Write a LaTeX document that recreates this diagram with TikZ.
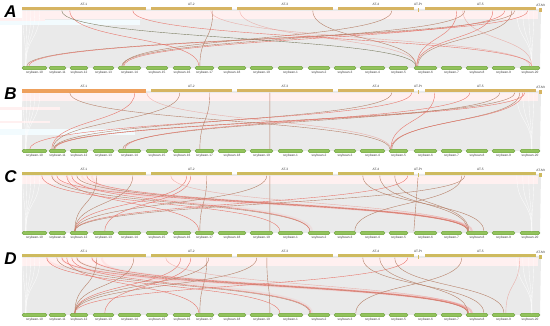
\documentclass[tikz,border=0pt]{standalone}
\usepackage{fontspec}
\setmainfont{Liberation Sans}
\usetikzlibrary{calc,positioning}

\definecolor{chrtan}{RGB}{214,180,98}
\definecolor{chrorange}{RGB}{238,160,92}
\definecolor{chrolive}{RGB}{206,186,94}
\definecolor{chrgreen}{RGB}{146,194,92}
\definecolor{chrgreendark}{RGB}{108,158,66}
\definecolor{linkred}{RGB}{232,118,108}
\definecolor{linkbrown}{RGB}{182,128,104}
\definecolor{linkdark}{RGB}{124,126,98}
\definecolor{bandgray}{RGB}{234,234,234}

% one syntenic link: top chromosome, offset, bottom chromosome, offset
\newcommand{\syn}[5][redlink]{%
  \draw[#1] ($(#2.south west)+(#3,0)$) .. controls +(0,-30) and +(0,30) .. ($(#4.north west)+(#5,0)$);}

\begin{document}
\begin{tikzpicture}[
    x=1pt, y=1pt,
    topbar/.style={rectangle, inner sep=0pt, minimum height=3pt},
    botbar/.style={rectangle, rounded corners=1.6pt, inner sep=0pt, minimum height=3.6pt,
                   fill=chrgreen, draw=chrgreendark, line width=0.3pt},
    chrlab/.style={font=\fontsize{3.2}{3.5}\selectfont, text=black!75, inner sep=0.3pt},
    panellab/.style={font=\fontsize{17}{17}\selectfont\bfseries\itshape, inner sep=0pt},
    redlink/.style={draw=linkred, line width=0.4pt},
    lightlink/.style={draw=linkred, line width=0.4pt, opacity=0.5},
    brownlink/.style={draw=linkbrown, line width=0.4pt},
    darklink/.style={draw=linkdark, line width=0.4pt},
    pinkband/.style={draw=red!60, line width=2pt, opacity=0.09},
    whitelink/.style={draw=white, line width=0.35pt, opacity=0.85}
]
\useasboundingbox (0,0) rectangle (550,326);
\fill[white] (0,0) rectangle (550,326);

% grey background of all links
\foreach \p/\ty/\by in {A/317/258, B/235/175, C/152/93, D/70/11} {
  \fill[bandgray] (22,\ty) -- (541,\ty) -- (540,\by) -- (22,\by) -- cycle;
  \fill[red!6] (22,\ty-2) rectangle (538,\ty-10);
}
\fill[cyan!5] (0,301) rectangle (140,306);
\fill[red!6] (0,305) rectangle (45,308);
\fill[cyan!5] (0,191) rectangle (135,197);
\fill[red!6] (0,216) rectangle (60,219);
\fill[red!6] (0,203) rectangle (50,205);

% chromosomes
\foreach \p/\ty/\by/\tc in {A/317/258/chrtan, B/235/175/chrtan, C/152/93/chrolive, D/70/11/chrolive} {
  \node[panellab] (\p-lab) at (10.5,\ty-3) {\p};
  \foreach \n/\a/\b/\t in {at1/22/146/AT-1, at2/151/232/AT-2, at3/237/333/AT-3,
                           at4/338/414/AT-4, at5/425/536/AT-5} {
    \node[topbar, fill=\tc, minimum width={(\b-\a)*1pt}] (\p-\n) at ({(\a+\b)/2},\ty) {};
    \node[chrlab, above=0.8pt of \p-\n] (\p-\n-t) {\t};
  }
  \node[topbar, fill=\tc, minimum width=1pt, minimum height=4.5pt] (\p-atpt) at (418,\ty-1) {};
  \node[chrlab, above=1.2pt of \p-atpt] (\p-atpt-t) {AT-Pt};
  \node[topbar, fill=\tc, minimum width=2.4pt, minimum height=3.4pt] (\p-atmt) at (540.5,\ty-1) {};
  \node[chrlab, above=1pt of \p-atmt] (\p-atmt-t) {AT-Mt};
  \foreach \n/\a/\b/\t in {gm10/22/47/soybean-10, gm11/49/66/soybean-11, gm12/70/88/soybean-12,
                           gm13/93/114/soybean-13, gm14/118/141/soybean-14, gm15/146/168/soybean-15,
                           gm16/173/191/soybean-16, gm17/195/214/soybean-17, gm18/218/246/soybean-18,
                           gm19/250/273/soybean-19, gm1/278/303/soybean-1, gm2/308/330/soybean-2,
                           gm3/334/356/soybean-3, gm4/360/385/soybean-4, gm5/389/408/soybean-5,
                           gm6/414/437/soybean-6, gm7/441/462/soybean-7, gm8/466/488/soybean-8,
                           gm9/492/515/soybean-9, gm20/520/540/soybean-20} {
    \node[botbar, minimum width={(\b-\a)*1pt}] (\p-\n) at ({(\a+\b)/2},\by) {};
    \node[chrlab, below=0.8pt of \p-\n] (\p-\n-t) {\t};
  }
  % pale links at both ends
  \foreach \o in {1,5,9,13,18} \syn[whitelink]{\p-at1}{\o}{\p-gm10}{4};
  \foreach \o in {92,98,104,109} \syn[whitelink]{\p-at5}{\o}{\p-gm20}{12};
}
\fill[chrorange] (B-at1.south west) rectangle (B-at1.north east);

% panel A
\syn[brownlink]{A-at5}{90}{A-gm10}{5}
\syn{A-at5}{103}{A-gm10}{7}
\syn[brownlink]{A-at5}{40}{A-gm14}{4}
\syn{A-at5}{80}{A-gm14}{6}
\syn[brownlink]{A-at4}{54}{A-gm14}{5}
\syn[brownlink]{A-at2}{62}{A-gm17}{5}
\syn{A-at1}{48}{A-gm17}{4}
\syn[darklink]{A-at1}{40}{A-gm6}{2}
\syn[brownlink]{A-at3}{76}{A-gm6}{2}
\syn[lightlink]{A-at3}{3}{A-gm6}{3}
\syn{A-at5}{32}{A-gm6}{3}
\syn{A-at5}{68}{A-gm6}{3}
\syn[brownlink]{A-at5}{87}{A-gm6}{4}
\syn{A-at1}{111}{A-gm20}{12}
\syn[lightlink]{A-at2}{60}{A-gm20}{10}
\syn[lightlink]{A-at5}{38}{A-gm20}{12}

% panel B
\syn[brownlink]{B-at5}{90}{B-gm11}{5}
\syn{B-at5}{100}{B-gm11}{6}
\syn[brownlink]{B-at5}{75}{B-gm14}{5}
\syn{B-at5}{45}{B-gm14}{7}
\syn[brownlink]{B-at2}{59}{B-gm17}{5}
\syn[brownlink]{B-at3}{33}{B-gm19}{20}
\syn[brownlink]{B-at1}{48}{B-gm5}{1}
\syn{B-at5}{10}{B-gm5}{2}
\syn[brownlink]{B-at5}{95}{B-gm5}{3}
\syn{B-at5}{98}{B-gm5}{2}
\syn[brownlink]{B-at4}{54}{B-gm11}{5}
\syn{B-at4}{74}{B-gm10}{8}
\syn[brownlink]{B-at2}{29}{B-gm11}{4}
\syn{B-at1}{113}{B-gm11}{3}
\syn[lightlink]{B-at1}{125}{B-gm5}{2}

% panel C
\foreach \o in {30,45,60} \syn[pinkband]{C-at1}{\o}{C-gm8}{6};
\syn[pinkband]{C-at1}{70}{C-gm2}{4}
\syn[brownlink]{C-at1}{75}{C-gm12}{5}
\syn[brownlink]{C-at1}{111}{C-gm12}{5}
\syn{C-at2}{36}{C-gm12}{5}
\syn[brownlink]{C-at3}{30}{C-gm12}{5}
\syn{C-at4}{70}{C-gm12}{5}
\syn[brownlink]{C-at5}{40}{C-gm12}{5}
\syn{C-at2}{40}{C-gm13}{12}
\syn[brownlink]{C-at2}{56}{C-gm17}{5}
\syn{C-at1}{45}{C-gm17}{4}
\syn[brownlink]{C-at3}{33}{C-gm19}{20}
\syn{C-at1}{20}{C-gm1}{2}
\syn[brownlink]{C-at1}{30}{C-gm2}{2}
\syn{C-at1}{50}{C-gm2}{2}
\syn{C-at1}{35}{C-gm8}{2}
\syn[brownlink]{C-at1}{55}{C-gm8}{2}
\syn{C-at1}{65}{C-gm8}{3}
\syn[lightlink]{C-at2}{20}{C-gm8}{3}
\syn[brownlink]{C-at4}{42}{C-gm8}{2}
\syn[brownlink]{C-at4}{57}{C-gm8}{3}
\syn[brownlink]{C-at4}{25}{C-gm8}{18}
\syn[brownlink]{C-at5}{37}{C-gm3}{21}
\draw[brownlink] (C-atpt.south) -- (C-gm6.north west);

% panel D
\foreach \o in {25,40,55,70} \syn[pinkband]{D-at1}{\o}{D-gm8}{6};
\syn[pinkband]{D-at1}{80}{D-gm2}{4}
\syn[brownlink]{D-at1}{75}{D-gm12}{5}
\syn[brownlink]{D-at1}{112}{D-gm12}{5}
\syn{D-at2}{30}{D-gm12}{5}
\syn[brownlink]{D-at2}{58}{D-gm12}{5}
\syn{D-at4}{70}{D-gm12}{5}
\syn[brownlink]{D-at3}{20}{D-gm12}{5}
\syn{D-at2}{40}{D-gm13}{12}
\syn[brownlink]{D-at2}{56}{D-gm17}{5}
\syn{D-at1}{45}{D-gm17}{4}
\syn[brownlink]{D-at3}{30}{D-gm19}{20}
\syn{D-at1}{25}{D-gm1}{2}
\syn[brownlink]{D-at1}{35}{D-gm2}{2}
\syn{D-at1}{50}{D-gm2}{3}
\syn{D-at1}{40}{D-gm8}{2}
\syn[brownlink]{D-at1}{55}{D-gm8}{2}
\syn{D-at1}{70}{D-gm8}{3}
\syn[lightlink]{D-at2}{15}{D-gm8}{3}
\syn[brownlink]{D-at4}{42}{D-gm8}{2}
\syn[brownlink]{D-at4}{57}{D-gm9}{12}
\syn[brownlink]{D-at4}{25}{D-gm8}{18}
\syn[brownlink]{D-at5}{37}{D-gm3}{22}
\syn[lightlink]{D-at5}{95}{D-gm9}{14}

\end{tikzpicture}
\end{document}
